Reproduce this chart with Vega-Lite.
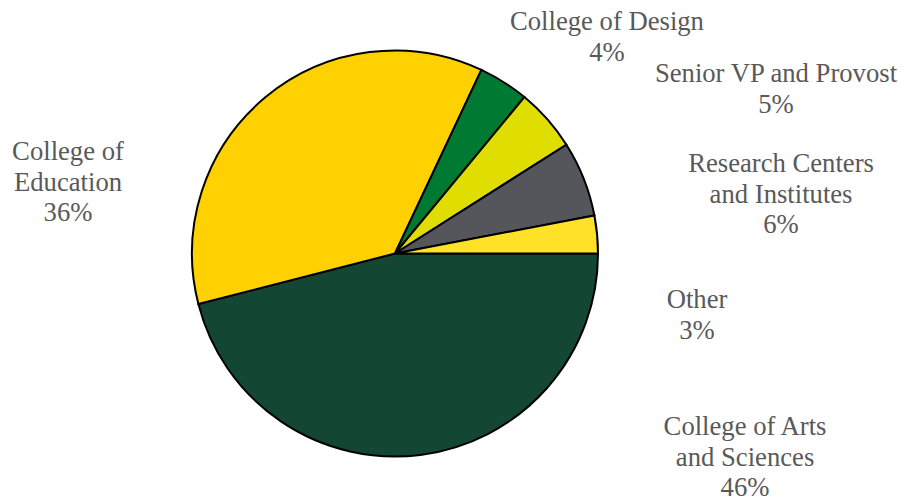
{
  "$schema": "https://vega.github.io/schema/vega-lite/v6.json",
  "width": 790,
  "height": 507,
  "padding": 0,
  "background": "white",
  "view": {"stroke": null},
  "data": {
    "values": [
      {"cat": "College of Arts and Sciences", "value": 46, "rank": 1, "label": "College of Arts\nand Sciences\n46%"},
      {"cat": "College of Education", "value": 36, "rank": 2, "label": "College of\nEducation\n36%"},
      {"cat": "College of Design", "value": 4, "rank": 3, "label": "College of Design\n4%"},
      {"cat": "Senior VP and Provost", "value": 5, "rank": 4, "label": "Senior VP and Provost\n5%"},
      {"cat": "Research Centers and Institutes", "value": 6, "rank": 5, "label": "Research Centers\nand Institutes\n6%"},
      {"cat": "Other", "value": 3, "rank": 6, "label": "Other\n3%"}
    ]
  },
  "encoding": {
    "theta": {"field": "value", "type": "quantitative", "stack": true, "scale": {"range": [1.5707963, 7.8539816]}},
    "order": {"field": "rank", "type": "quantitative"}
  },
  "layer": [
    {
      "mark": {"type": "arc", "outerRadius": 203, "stroke": "#000000", "strokeWidth": 2},
      "encoding": {
        "color": {
          "field": "cat", "type": "nominal", "legend": null,
          "scale": {
            "domain": ["College of Arts and Sciences", "College of Education", "College of Design", "Senior VP and Provost", "Research Centers and Institutes", "Other"],
            "range": ["#134734", "#FFD100", "#007A33", "#E0DE00", "#54565B", "#FFE227"]
          }
        }
      }
    },
    {
      "mark": {"type": "text", "radius": 203, "dx": 324.6, "dy": -19.9, "align": "center", "baseline": "alphabetic", "lineBreak": "\n", "lineHeight": 30.7, "font": "Liberation Serif", "fontSize": 26.67, "fill": "#595959"},
      "encoding": {"detail": {"field": "cat"}, "text": {"condition": {"test": "datum.cat === 'College of Arts and Sciences'", "field": "label"}, "value": ""}}
    },
    {
      "mark": {"type": "text", "radius": 203, "dx": -197.6, "dy": 62.9, "align": "center", "baseline": "alphabetic", "lineBreak": "\n", "lineHeight": 30.7, "font": "Liberation Serif", "fontSize": 26.67, "fill": "#595959"},
      "encoding": {"detail": {"field": "cat"}, "text": {"condition": {"test": "datum.cat === 'College of Education'", "field": "label"}, "value": ""}}
    },
    {
      "mark": {"type": "text", "radius": 203, "dx": 103.2, "dy": -52.1, "align": "center", "baseline": "alphabetic", "lineBreak": "\n", "lineHeight": 30.7, "font": "Liberation Serif", "fontSize": 26.67, "fill": "#595959"},
      "encoding": {"detail": {"field": "cat"}, "text": {"condition": {"test": "datum.cat === 'College of Design'", "field": "label"}, "value": ""}}
    },
    {
      "mark": {"type": "text", "radius": 203, "dx": 228.7, "dy": -37.3, "align": "center", "baseline": "alphabetic", "lineBreak": "\n", "lineHeight": 30.7, "font": "Liberation Serif", "fontSize": 26.67, "fill": "#595959"},
      "encoding": {"detail": {"field": "cat"}, "text": {"condition": {"test": "datum.cat === 'Senior VP and Provost'", "field": "label"}, "value": ""}}
    },
    {
      "mark": {"type": "text", "radius": 203, "dx": 197.3, "dy": -6.8, "align": "center", "baseline": "alphabetic", "lineBreak": "\n", "lineHeight": 30.7, "font": "Liberation Serif", "fontSize": 26.67, "fill": "#595959"},
      "encoding": {"detail": {"field": "cat"}, "text": {"condition": {"test": "datum.cat === 'Research Centers and Institutes'", "field": "label"}, "value": ""}}
    },
    {
      "mark": {"type": "text", "radius": 203, "dx": 99.9, "dy": 73.6, "align": "center", "baseline": "alphabetic", "lineBreak": "\n", "lineHeight": 30.7, "font": "Liberation Serif", "fontSize": 26.67, "fill": "#595959"},
      "encoding": {"detail": {"field": "cat"}, "text": {"condition": {"test": "datum.cat === 'Other'", "field": "label"}, "value": ""}}
    }
  ]
}
